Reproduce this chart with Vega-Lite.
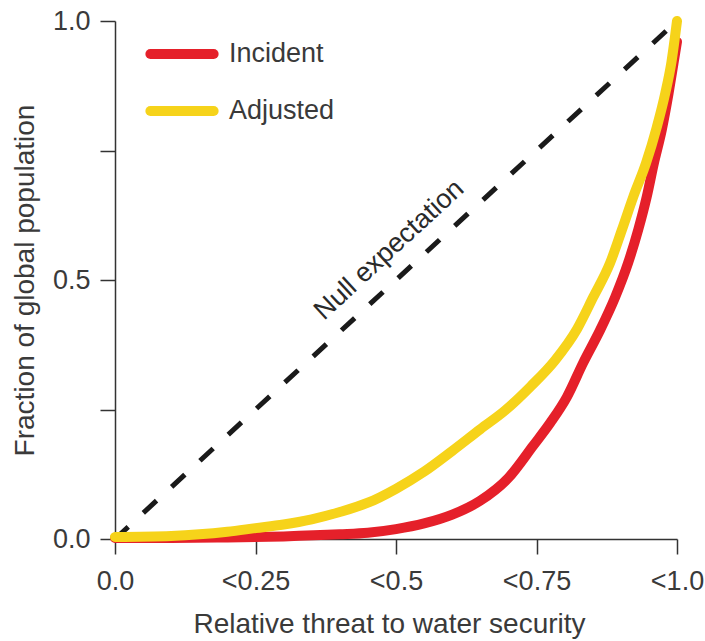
{
  "$schema": "https://vega.github.io/schema/vega-lite/v6.json",
  "width": 562,
  "height": 518,
  "autosize": {"type": "none"},
  "padding": {"left": 115, "top": 21, "right": 28, "bottom": 102},
  "background": "white",
  "config": {
    "view": {"stroke": null},
    "font": "Liberation Sans",
    "axis": {
      "grid": false,
      "domainColor": "#333333",
      "domainWidth": 1.5,
      "tickColor": "#333333",
      "tickWidth": 1.5,
      "tickSize": 15,
      "labelFont": "Liberation Sans",
      "labelFontSize": 27,
      "labelColor": "#3a3a3a",
      "titleFont": "Liberation Sans",
      "titleFontSize": 28,
      "titleFontWeight": "normal",
      "titleColor": "#3a3a3a"
    }
  },
  "datasets": {
    "curves": [
      {"series": "Incident", "x": 0.0, "y": 0.002},
      {"series": "Incident", "x": 0.1, "y": 0.002},
      {"series": "Incident", "x": 0.2, "y": 0.003},
      {"series": "Incident", "x": 0.3, "y": 0.005},
      {"series": "Incident", "x": 0.4, "y": 0.009},
      {"series": "Incident", "x": 0.45, "y": 0.012},
      {"series": "Incident", "x": 0.5, "y": 0.019},
      {"series": "Incident", "x": 0.55, "y": 0.03},
      {"series": "Incident", "x": 0.6, "y": 0.047},
      {"series": "Incident", "x": 0.65, "y": 0.074},
      {"series": "Incident", "x": 0.7, "y": 0.118},
      {"series": "Incident", "x": 0.744, "y": 0.18},
      {"series": "Incident", "x": 0.775, "y": 0.225},
      {"series": "Incident", "x": 0.804, "y": 0.274},
      {"series": "Incident", "x": 0.833, "y": 0.34},
      {"series": "Incident", "x": 0.863, "y": 0.403},
      {"series": "Incident", "x": 0.89, "y": 0.467},
      {"series": "Incident", "x": 0.913, "y": 0.533},
      {"series": "Incident", "x": 0.931, "y": 0.597},
      {"series": "Incident", "x": 0.946, "y": 0.66},
      {"series": "Incident", "x": 0.959, "y": 0.726},
      {"series": "Incident", "x": 0.973, "y": 0.79},
      {"series": "Incident", "x": 0.985, "y": 0.86},
      {"series": "Incident", "x": 0.994, "y": 0.92},
      {"series": "Incident", "x": 1.0, "y": 0.96},
      {"series": "Adjusted", "x": 0.0, "y": 0.004},
      {"series": "Adjusted", "x": 0.1, "y": 0.006},
      {"series": "Adjusted", "x": 0.15, "y": 0.009},
      {"series": "Adjusted", "x": 0.2, "y": 0.014},
      {"series": "Adjusted", "x": 0.25, "y": 0.021},
      {"series": "Adjusted", "x": 0.3, "y": 0.028},
      {"series": "Adjusted", "x": 0.35, "y": 0.038},
      {"series": "Adjusted", "x": 0.4, "y": 0.052},
      {"series": "Adjusted", "x": 0.45, "y": 0.07},
      {"series": "Adjusted", "x": 0.5, "y": 0.097},
      {"series": "Adjusted", "x": 0.55, "y": 0.13},
      {"series": "Adjusted", "x": 0.6, "y": 0.17},
      {"series": "Adjusted", "x": 0.65, "y": 0.212},
      {"series": "Adjusted", "x": 0.694, "y": 0.248},
      {"series": "Adjusted", "x": 0.74, "y": 0.295},
      {"series": "Adjusted", "x": 0.783, "y": 0.345},
      {"series": "Adjusted", "x": 0.822, "y": 0.405},
      {"series": "Adjusted", "x": 0.851, "y": 0.467},
      {"series": "Adjusted", "x": 0.881, "y": 0.533},
      {"series": "Adjusted", "x": 0.902, "y": 0.597},
      {"series": "Adjusted", "x": 0.922, "y": 0.66},
      {"series": "Adjusted", "x": 0.945, "y": 0.726},
      {"series": "Adjusted", "x": 0.964, "y": 0.795},
      {"series": "Adjusted", "x": 0.979, "y": 0.86},
      {"series": "Adjusted", "x": 0.99, "y": 0.92},
      {"series": "Adjusted", "x": 1.0, "y": 1.0}
    ],
    "nullLine": [
      {"x": 0, "y": 0},
      {"x": 1, "y": 1}
    ],
    "nullLabel": [
      {"x": 0.488, "y": 0.558, "label": "Null expectation"}
    ]
  },
  "layer": [
    {
      "data": {"name": "nullLine"},
      "mark": {"type": "line", "color": "#1a1a1a", "strokeWidth": 5, "strokeDash": [18, 20.5], "clip": false},
      "encoding": {
        "x": {
          "field": "x", "type": "quantitative",
          "scale": {"domain": [0, 1], "nice": false, "zero": false},
          "axis": {
            "values": [0, 0.25, 0.5, 0.75, 1],
            "labelExpr": "datum.value == 0 ? '0.0' : datum.value == 1 ? '<1.0' : '<' + datum.value",
            "labelPadding": 14,
            "labelFlush": false,
            "title": "Relative threat to water security",
            "titleBaseline": "alphabetic",
            "titleX": 274,
            "titleY": 93
          }
        },
        "y": {
          "field": "y", "type": "quantitative",
          "scale": {"domain": [0, 1], "nice": false, "zero": false},
          "axis": {
            "values": [0, 0.25, 0.5, 0.75, 1],
            "labelExpr": "datum.value == 0.25 || datum.value == 0.75 ? '' : format(datum.value, '.1f')",
            "labelPadding": 10,
            "labelFlush": false,
            "title": "Fraction of global population",
            "titleBaseline": "alphabetic",
            "titleX": -82,
            "titleY": 259
          }
        }
      }
    },
    {
      "data": {"name": "curves"},
      "mark": {"type": "line", "strokeWidth": 10, "strokeCap": "round", "strokeJoin": "round", "interpolate": "monotone", "clip": false},
      "encoding": {
        "x": {"field": "x", "type": "quantitative"},
        "y": {"field": "y", "type": "quantitative"},
        "color": {
          "field": "series", "type": "nominal",
          "scale": {"domain": ["Incident", "Adjusted"], "range": ["#e5202a", "#f6d31a"]},
          "legend": {
            "orient": "none",
            "legendX": 30,
            "legendY": -4,
            "title": null,
            "padding": 0,
            "symbolType": "stroke",
            "symbolStrokeWidth": 10,
            "symbolSize": 4000,
            "labelFont": "Liberation Sans",
            "labelFontSize": 27,
            "labelColor": "#3a3a3a",
            "labelOffset": 10,
            "rowPadding": -5,
            "encode": {"symbols": {"update": {"strokeCap": {"value": "round"}}}}
          }
        }
      }
    },
    {
      "data": {"name": "nullLabel"},
      "mark": {"type": "text", "angle": -42.67, "fontSize": 27, "font": "Liberation Sans", "color": "#2a2a2a", "align": "center", "baseline": "middle"},
      "encoding": {
        "x": {"field": "x", "type": "quantitative"},
        "y": {"field": "y", "type": "quantitative"},
        "text": {"field": "label"}
      }
    }
  ]
}
